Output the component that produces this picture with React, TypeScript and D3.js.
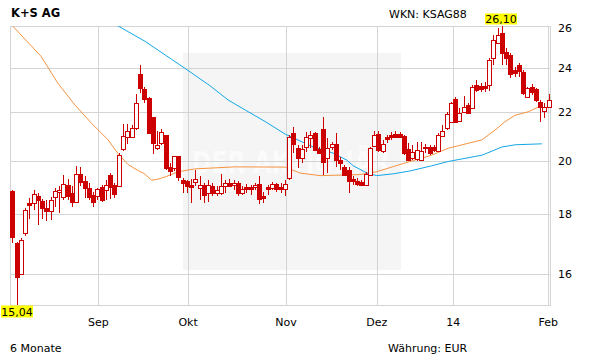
import React from "react";
import * as d3 from "d3";

const title = "K+S AG";
const wknLabel = "WKN: KSAG88";
const periodLabel = "6 Monate";
const currencyLabel = "Währung: EUR";
const watermark = "DER AKTIONÄR";

const open = [18.85, 17.01, 16.0, 17.33, 18.38, 18.39, 18.66, 18.48, 18.2, 18.11, 18.61, 18.81, 18.61, 19.07, 18.78, 18.45, 19.48, 19.21, 18.94, 18.69, 18.66, 18.98, 18.88, 19.45, 19.08, 19.03, 20.46, 20.96, 20.98, 21.33, 23.75, 23.05, 22.63, 21.82, 20.49, 20.71, 21.05, 19.74, 19.72, 20.19, 19.26, 19.23, 19.06, 19.16, 18.95, 19.06, 18.76, 19.03, 18.76, 18.76, 19.03, 19.14, 19.06, 19.14, 18.78, 18.98, 18.98, 18.98, 19.1, 18.66, 18.98, 18.94, 19.1, 18.98, 18.91, 19.32, 21.12, 20.5, 20.1, 20.57, 20.91, 21.12, 20.46, 21.29, 20.1, 20.57, 20.68, 20.03, 19.77, 19.64, 19.29, 19.2, 19.16, 19.06, 19.45, 20.6, 21.08, 20.4, 20.95, 21.05, 21.08, 21.08, 21.01, 20.46, 20.1, 20.06, 20.03, 20.57, 20.55, 20.55, 20.4, 21.01, 21.33, 21.61, 22.58, 21.64, 22.04, 22.33, 22.18, 23.23, 23.18, 23.18, 23.23, 24.49, 25.26, 25.72, 24.79, 24.65, 23.93, 24.17, 23.85, 22.67, 23.15, 23.03, 22.48, 22.08, 22.23];
const high = [18.88, 17.03, 17.16, 18.23, 18.57, 18.86, 18.76, 18.54, 18.51, 18.61, 18.94, 19.01, 19.45, 19.29, 19.01, 19.8, 19.77, 19.41, 19.14, 18.82, 18.94, 19.07, 19.26, 19.52, 19.14, 20.3, 21.51, 21.51, 21.47, 22.82, 24.17, 23.15, 22.7, 21.82, 21.19, 21.29, 21.05, 19.9, 20.19, 20.19, 19.32, 19.26, 19.29, 19.64, 19.41, 19.14, 19.26, 19.14, 19.01, 19.49, 19.26, 19.29, 19.26, 19.2, 19.03, 19.1, 19.07, 19.14, 19.41, 18.82, 19.07, 19.16, 19.14, 19.14, 19.26, 21.05, 21.37, 20.64, 20.64, 21.15, 21.19, 21.15, 20.57, 21.82, 20.91, 20.77, 21.12, 20.16, 19.84, 19.77, 19.39, 19.32, 19.26, 19.57, 20.57, 21.22, 21.19, 20.84, 21.05, 21.15, 21.19, 21.17, 21.05, 20.71, 20.64, 20.77, 20.77, 20.68, 20.64, 20.64, 21.12, 21.47, 22.0, 22.48, 22.7, 22.18, 22.73, 22.4, 23.23, 23.46, 23.31, 23.38, 24.49, 25.64, 26.02, 26.1, 24.97, 24.73, 24.09, 24.25, 23.93, 23.15, 23.27, 23.08, 22.55, 22.43, 22.82];
const low = [17.01, 15.04, 15.96, 17.24, 17.83, 18.15, 17.6, 17.83, 17.77, 17.79, 18.27, 18.04, 18.51, 18.51, 18.27, 18.39, 19.01, 18.57, 18.51, 18.27, 18.51, 18.45, 18.51, 18.54, 18.57, 19.01, 20.4, 20.68, 20.91, 21.26, 22.88, 22.4, 21.12, 20.27, 20.43, 20.64, 19.64, 19.39, 19.6, 19.22, 18.78, 18.76, 18.39, 19.01, 18.51, 18.41, 18.45, 18.64, 18.66, 18.7, 18.76, 19.01, 18.88, 18.66, 18.7, 18.76, 18.7, 18.88, 18.37, 18.41, 18.7, 18.88, 18.82, 18.76, 18.66, 19.26, 20.3, 19.71, 19.9, 20.36, 20.5, 20.4, 20.3, 19.45, 19.52, 20.43, 19.77, 19.64, 19.39, 18.78, 19.07, 19.01, 19.01, 19.01, 19.39, 20.57, 20.36, 20.3, 20.71, 20.84, 20.95, 20.93, 20.23, 19.97, 20.03, 19.99, 20.01, 20.3, 20.23, 20.36, 20.36, 20.98, 21.26, 21.54, 21.54, 21.61, 21.97, 21.97, 22.14, 22.92, 22.92, 22.92, 22.97, 24.17, 25.19, 24.17, 24.17, 23.54, 23.62, 23.62, 22.78, 22.63, 22.78, 22.48, 21.61, 21.76, 22.18];
const close = [17.19, 15.91, 17.1, 18.14, 18.32, 18.73, 18.49, 18.21, 18.12, 18.51, 18.83, 18.88, 19.1, 18.66, 18.45, 19.48, 19.16, 18.94, 18.63, 18.45, 18.91, 18.51, 19.07, 18.98, 18.73, 20.23, 21.02, 21.22, 21.33, 22.4, 23.11, 22.6, 21.14, 20.73, 20.64, 21.17, 19.71, 19.61, 20.19, 19.35, 19.14, 19.01, 18.98, 19.29, 19.07, 18.7, 19.07, 18.76, 18.88, 19.03, 19.14, 19.03, 19.14, 18.78, 18.91, 18.93, 18.91, 19.07, 18.54, 18.57, 18.91, 19.1, 18.91, 18.91, 19.1, 20.98, 20.68, 20.1, 20.46, 20.95, 21.05, 20.43, 20.32, 19.96, 20.5, 20.68, 20.03, 19.93, 19.45, 19.2, 19.22, 19.1, 19.08, 19.49, 20.5, 21.05, 20.43, 20.68, 20.87, 20.95, 20.98, 20.98, 20.32, 20.03, 20.36, 20.43, 20.4, 20.49, 20.32, 20.43, 21.05, 21.22, 21.94, 22.4, 21.61, 21.96, 22.22, 21.99, 23.15, 23.0, 23.03, 23.08, 24.41, 25.39, 25.64, 24.76, 24.49, 23.74, 23.77, 23.9, 22.88, 23.08, 22.92, 22.55, 22.23, 22.23, 22.55];

// moving averages read as [candle index, value]
const maShort: [number, number][] = [[0, 26.12], [6.8, 24.57], [10.7, 23.31], [14.7, 22.33], [18.6, 21.54], [22.5, 20.84], [24.8, 20.29], [27.2, 19.85], [30, 19.57], [30.9, 19.51], [32.7, 19.25], [33.9, 19.27], [35.9, 19.37], [39, 19.57], [42.9, 19.68], [52.3, 19.76], [64.1, 19.75], [67.6, 19.52], [72.3, 19.42], [81.7, 19.46], [85.6, 19.57], [89.5, 19.77], [93.4, 19.97], [98.5, 20.22], [102.4, 20.5], [110.3, 20.84], [113.4, 21.25], [115.7, 21.6], [118.1, 21.88], [121.2, 22.03], [124.6, 22.33]];
const maLong: [number, number][] = [[22, 26.6], [24.7, 26.12], [31.2, 25.32], [37.4, 24.44], [40.6, 24.0], [46.4, 23.2], [50.7, 22.55], [54.7, 22.11], [59.4, 21.61], [64.1, 21.08], [70.7, 20.55], [75.4, 20.3], [78.6, 20.02], [80.1, 19.8], [83.3, 19.52], [85.6, 19.42], [89.5, 19.49], [93.4, 19.6], [98.5, 19.8], [102.4, 19.97], [110.3, 20.22], [112.9, 20.4], [115, 20.55], [118.1, 20.64], [124.4, 20.68]];

const yTicks = [16, 18, 20, 22, 24, 26];
const monthLabels = ["Sep", "Okt", "Nov", "Dez", "14", "Feb"];
const monthIdx = [20.2, 41.3, 64.3, 85.6, 103.6, 125.9];

const RED = "#cc0000";
const GRID = "#d4d4d4";
const FONT = "'DejaVu Sans', Verdana, sans-serif";

export default function App() {
  const W = 611, H = 364;
  const left = 10, right = 551, top = 26, bottom = 305;
  const n = close.length;
  const x = d3.scaleLinear().domain([0, n - 1]).range([12.3, 548.7]);
  const yMin = d3.min(low) as number;
  const yMax = d3.max(high) as number;
  const y = d3.scaleLog().domain([yMin, yMax]).range([bottom, top]);
  const minIdx = low.indexOf(yMin);
  const maxIdx = high.indexOf(yMax);
  const fmt = (v: number) => d3.format(".2f")(v).replace(".", ",");

  const line = d3.line<[number, number]>().x(d => x(d[0])).y(d => y(d[1]));

  const maxCx = Math.round(x(maxIdx)) - 1;
  const minCx = Math.max(16, Math.round(x(minIdx)));

  return (
    <svg width={W} height={H} style={{ position: "absolute", left: 0, top: 0, background: "#fff" }} fontFamily={FONT}>
      <defs>
        <clipPath id="plot">
          <rect x={left} y={top} width={right - left} height={bottom - top} />
        </clipPath>
      </defs>
      <rect x={0} y={0} width={W} height={H} fill="#fff" />
      {/* watermark */}
      <rect x={183} y={53} width={218} height={217} fill="#f5f5f5" />
      <text x={192} y={173} fontSize={30} fontWeight="bold" fill="#fbfbfb" textLength={198} lengthAdjust="spacingAndGlyphs">{watermark}</text>

      {/* grid */}
      {yTicks.filter(t => t < 26).map(t => (
        <line key={t} x1={left} x2={right} y1={Math.round(y(t)) + 0.5} y2={Math.round(y(t)) + 0.5} stroke={GRID} />
      ))}
      {monthIdx.map((m, i) => (
        <line key={i} x1={Math.round(x(m)) + 0.5} x2={Math.round(x(m)) + 0.5} y1={top} y2={bottom} stroke={GRID} />
      ))}
      <rect x={left + 0.5} y={top + 0.5} width={right - left - 1} height={bottom - top} fill="none" stroke={GRID} />

      {/* moving averages */}
      <g clipPath="url(#plot)" fill="none">
        <path d={line(maShort) || ""} stroke="#f59440" strokeWidth={1} />
        <path d={line(maLong) || ""} stroke="#14a6e6" strokeWidth={1} />
      </g>

      {/* candles */}
      <g>
        {close.map((c, i) => {
          const cx = Math.round(x(i));
          const o = open[i];
          const up = c >= o;
          const yt = Math.round(y(Math.max(o, c)));
          const yb = Math.round(y(Math.min(o, c)));
          return (
            <g key={i}>
              <line x1={cx + 0.5} x2={cx + 0.5} y1={Math.round(y(high[i]))} y2={Math.round(y(low[i]))} stroke={RED} />
              <rect x={cx - 1.5} y={yt + 0.5} width={4} height={Math.max(yb - yt, 1)} fill={up ? "#fff" : RED} stroke={RED} />
            </g>
          );
        })}
      </g>

      {/* max / min labels */}
      <rect x={maxCx - 16} y={y(yMax) - 12.5} width={32} height={11} fill="#ffff00" />
      <text x={maxCx} y={y(yMax) - 3.5} fontSize={11} textAnchor="middle" fill="#000">{fmt(yMax)}</text>
      <rect x={minCx - 16} y={y(yMin) + 0.5} width={32} height={12} fill="#ffff00" />
      <text x={minCx} y={y(yMin) + 10.5} fontSize={11} textAnchor="middle" fill="#000">{fmt(yMin)}</text>

      {/* y axis labels */}
      {yTicks.map(t => (
        <text key={t} x={558} y={y(t) + 4} fontSize={11} fill="#000">{t}</text>
      ))}
      {/* x axis labels */}
      {monthLabels.map((l, i) => (
        <text key={l} x={x(monthIdx[i])} y={326} fontSize={11} textAnchor="middle" fill="#000">{l}</text>
      ))}

      <text x={11} y={17} fontSize={11.5} fontWeight="bold" fill="#000">{title}</text>
      <text x={389} y={18} fontSize={11} fill="#000">{wknLabel}</text>
      <text x={10} y={352} fontSize={11} fill="#000">{periodLabel}</text>
      <text x={388} y={352} fontSize={11} fill="#000">{currencyLabel}</text>
    </svg>
  );
}
